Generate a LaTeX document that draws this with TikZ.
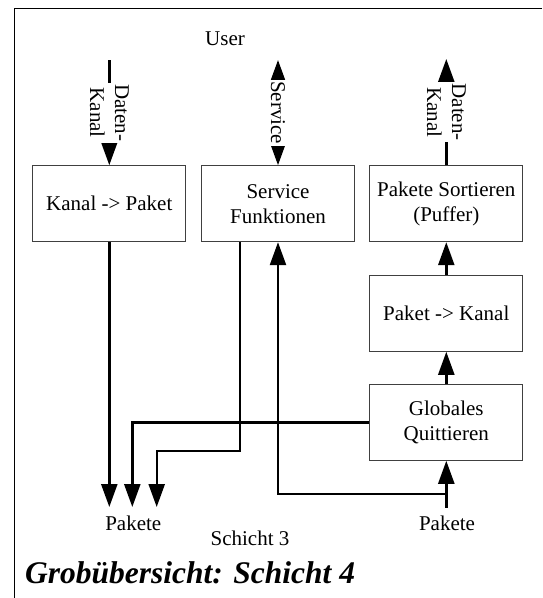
\documentclass[tikz,border=0pt]{standalone}
\usepackage{fontspec}
\setmainfont{Liberation Serif}
\usetikzlibrary{arrows.meta}
\begin{document}
\begin{tikzpicture}[x=1pt,y=-1pt,
  block/.style={draw=black!75,line width=1pt,minimum width=153pt,minimum height=76pt,
    align=center,inner sep=2pt,font=\fontsize{21}{25}\selectfont},
  lbl/.style={font=\fontsize{21}{25}\selectfont,inner sep=0pt},
  vlbl/.style={lbl,fill=white,rotate=-90,align=center,inner sep=1.5pt},
  tip/.tip={Triangle[length=23pt,width=16pt]},
  conn/.style={line width=2.4pt,-tip},
  conn2/.style={line width=2.4pt,tip-tip}]
\useasboundingbox (0,0) rectangle (542,598);
% outer frame (top and left edges)
\draw[line width=1pt] (542,8.5) -- (14.5,8.5) -- (14.5,598);

% blocks
\node[block] (kp) at (109.3,203.7) {Kanal -> Paket};
\node[block] (sf) at (278,203.7) {Service\\Funktionen};
\node[block] (ps) at (446.3,203.7) {Pakete Sortieren\\(Puffer)};
\node[block] (pk) at (446.3,313.3) {Paket -> Kanal};
\node[block] (gq) at (446.3,422.3) {Globales\\Quittieren};

% free ends
\coordinate (u1) at (109.3,60);
\coordinate (u2) at (278,60);
\coordinate (u3) at (446.3,59);
\coordinate (p1) at (109.3,507);
\coordinate (p2) at (132.3,507);
\coordinate (p3) at (156.7,507);
\coordinate (pin) at (446.3,507.5);
\coordinate (k1) at (240,451);
\coordinate (k2) at (278,494);

% texts
\node[lbl,anchor=base] (user) at (225,45.5) {User};
\node[lbl,anchor=base] (pl) at (133.3,530) {Pakete};
\node[lbl,anchor=base] (s3) at (250,545) {Schicht 3};
\node[lbl,anchor=base] (pr) at (447,530) {Pakete};
\node[anchor=base west,inner sep=0pt,font=\fontsize{31.5}{37}\selectfont\bfseries\itshape] (title) at (25,583) {Grobübersicht: Schicht 4};

% user side connectors
\draw[conn] (u1) -- (kp.north) node[vlbl,midway] {Daten-\\Kanal};
\draw[conn2] (u2) -- (sf.north) node[vlbl,midway] {Service};
\draw[conn] (ps.north) -- (u3) node[vlbl,midway] {Daten-\\Kanal};

% internal chain
\draw[conn] (gq.north) -- (pk.south);
\draw[conn] (pk.north) -- (ps.south);

% down to layer 3
\draw[conn] (kp.south) -- (p1);
\draw[conn] (gq.west) -| (p2);
\draw[conn] (sf.south -| k1) -- (k1) -| (p3);

% up from layer 3
\draw[conn] (pin) -- (gq.south);
\draw[conn] (pin |- k2) -| (sf.south);
\end{tikzpicture}
\end{document}
